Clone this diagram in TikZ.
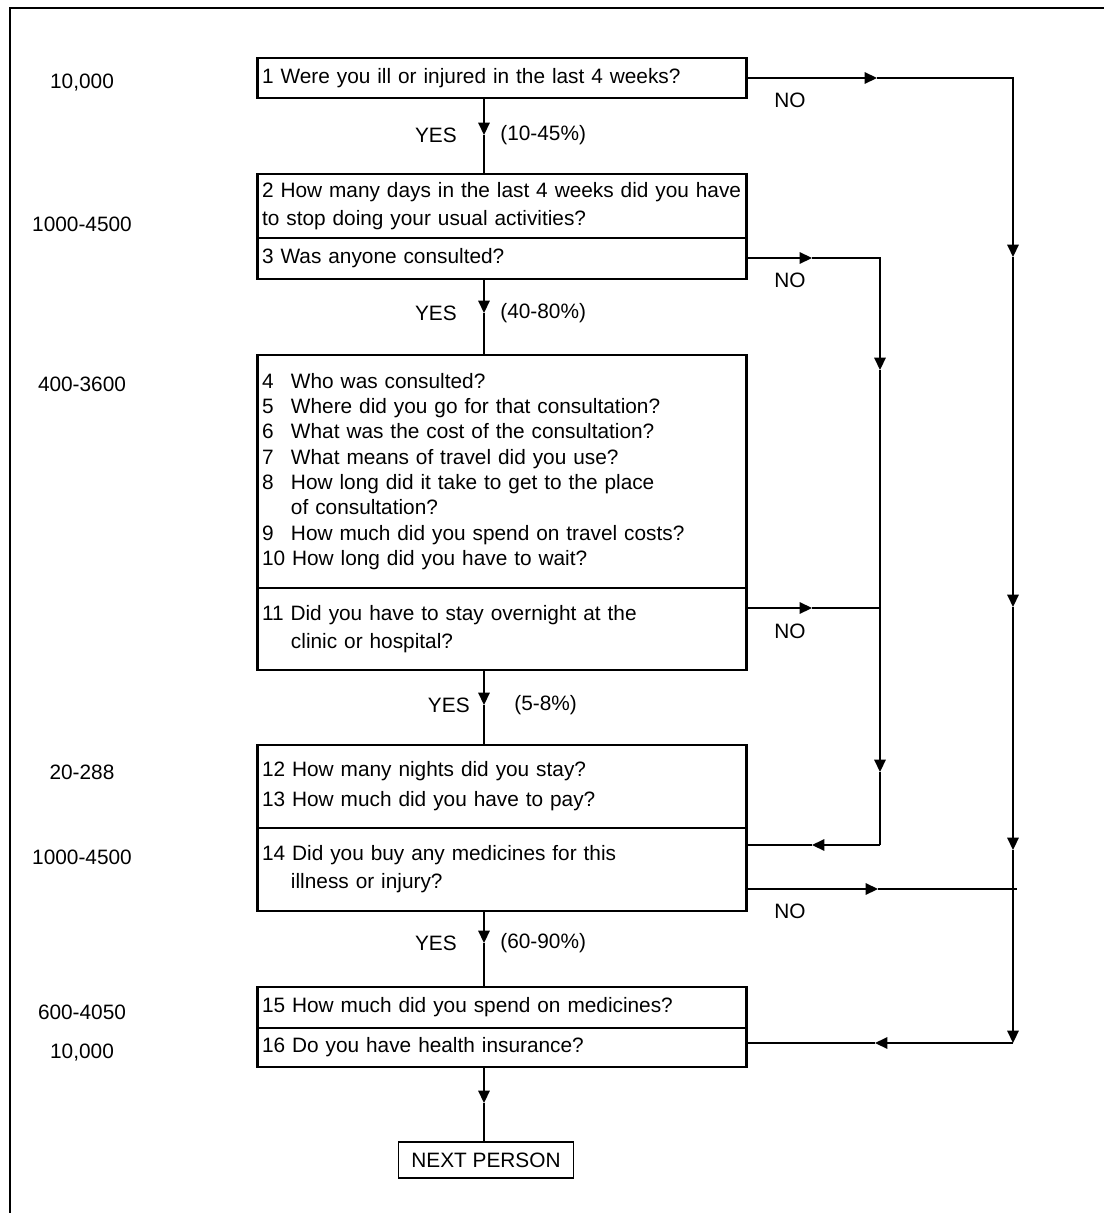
\documentclass[tikz,border=0pt]{standalone}
\usepackage{fontspec}
\setmainfont{Liberation Sans}
\usetikzlibrary{arrows.meta, positioning}
\newcommand{\qn}[1]{\makebox[1.39em][l]{#1}}

\begin{document}
\begin{tikzpicture}[
  x=0.02cm, y=-0.02cm,
  qbox/.style={rectangle, draw, line width=1.6pt, text width=9.6cm,
               minimum width=9.78cm, inner xsep=0.09cm, inner ysep=0pt,
               outer sep=0pt, align=left, font=\fontsize{11.85}{16}\selectfont},
  endbox/.style={rectangle, draw, line width=1pt, minimum width=3.5cm,
                 minimum height=0.72cm, inner sep=0pt, font=\fontsize{11.85}{14}\selectfont},
  arrow/.style={-{Triangle[length=7pt, width=6.5pt]}, line width=0.9pt},
  link/.style={line width=0.9pt},
  lbl/.style={inner sep=0pt, font=\fontsize{11.85}{14}\selectfont},
  cntlbl/.style={inner sep=0pt, font=\fontsize{11.85}{14}\selectfont}
]
  \useasboundingbox (0,0) rectangle (1104,1213);
  \draw[line width=1.3pt] (10,1213) -- (10,8) -- (1104,8);

  \node[qbox, minimum height=0.8cm] (q1) at (502,78)
    {1 Were you ill or injured in the last 4 weeks?};
  \node[qbox, minimum height=1.28cm] (q2) at (502,206)
    {2 How many days in the last 4 weeks did you have\\to stop doing your usual activities?};
  \node[qbox, minimum height=0.82cm, below=0pt of q2] (q3)
    {3 Was anyone consulted?};
  \node[qbox, minimum height=4.66cm, font=\fontsize{11.85}{14.4}\selectfont] (q4) at (502,471.5)
    {\qn{4}Who was consulted?\\
     \qn{5}Where did you go for that consultation?\\
     \qn{6}What was the cost of the consultation?\\
     \qn{7}What means of travel did you use?\\
     \qn{8}How long did it take to get to the place\\
     \qn{}of consultation?\\
     \qn{9}How much did you spend on travel costs?\\
     10 How long did you have to wait?};
  \node[qbox, minimum height=1.64cm, below=0pt of q4] (q11)
    {11 Did you have to stay overnight at the\\\qn{}clinic or hospital?};
  \node[qbox, minimum height=1.66cm] (q12) at (502,786.5)
    {12 How many nights did you stay?\\[1pt]13 How much did you have to pay?};
  \node[qbox, minimum height=1.66cm, below=0pt of q12] (q14)
    {14 Did you buy any medicines for this\\\qn{}illness or injury?};
  \node[qbox, minimum height=0.82cm] (q15) at (502,1007.5)
    {15 How much did you spend on medicines?};
  \node[qbox, minimum height=0.78cm, below=0pt of q15] (q16)
    {16 Do you have health insurance?};
  \node[endbox] (next) at (486,1160) {NEXT PERSON};

  \node[cntlbl] (n1) at (82,83) {10,000};
  \node[cntlbl] (n2) at (82,224) {1000-4500};
  \node[cntlbl] (n4) at (82,384) {400-3600};
  \node[cntlbl] (n12) at (82,772) {20-288};
  \node[cntlbl] (n14) at (82,857) {1000-4500};
  \node[cntlbl] (n15) at (82,1012) {600-4050};
  \node[cntlbl] (n16) at (82,1053) {10,000};

  \coordinate (a1) at (484,135);
  \coordinate (a3) at (484,313);
  \coordinate (a11) at (484,705);
  \coordinate (a14) at (484,943);
  \coordinate (a16) at (484,1103);
  \draw[arrow] (q1.south -| a1) -- (a1);
  \draw[link] (a1) -- (q2.north -| a1);
  \draw[arrow] (q3.south -| a3) -- (a3);
  \draw[link] (a3) -- (q4.north -| a3);
  \draw[arrow] (q11.south -| a11) -- (a11);
  \draw[link] (a11) -- (q12.north -| a11);
  \draw[arrow] (q14.south -| a14) -- (a14);
  \draw[link] (a14) -- (q15.north -| a14);
  \draw[arrow] (q16.south -| a16) -- (a16);
  \draw[link] (a16) -- (next.north -| a16);

  \node[lbl, left=0.54cm of a1] {YES};
  \node[lbl, right=0.32cm of a1] {(10-45\%)};
  \node[lbl, left=0.54cm of a3] {YES};
  \node[lbl, right=0.32cm of a3] {(40-80\%)};
  \node[lbl, left=0.28cm of a11] {YES};
  \node[lbl, right=0.6cm of a11] {(5-8\%)};
  \node[lbl, left=0.54cm of a14] {YES};
  \node[lbl, right=0.32cm of a14] {(60-90\%)};

  \coordinate (r1) at (877,78);
  \coordinate (c1) at (1013,78);
  \coordinate (d1) at (1013,257);
  \coordinate (d2) at (1013,607);
  \coordinate (d3) at (1013,850);
  \coordinate (d4) at (1013,1043);
  \coordinate (l16) at (875,1043);
  \draw[arrow] (r1 -| q1.east) -- (r1);
  \draw[arrow] (r1) -- (c1) -- (d1);
  \draw[arrow] (d1) -- (d2);
  \draw[arrow] (d2) -- (d3);
  \draw[arrow] (d3) -- (d4);
  \draw[arrow] (d4) -- (l16);
  \draw[link] (l16) -- (l16 -| q16.east);

  \coordinate (r3) at (812,258);
  \coordinate (c3) at (880,258);
  \coordinate (e1) at (880,370);
  \coordinate (e2) at (880,772);
  \coordinate (c14) at (880,845);
  \coordinate (l14) at (812,845);
  \draw[arrow] (r3 -| q3.east) -- (r3);
  \draw[arrow] (r3) -- (c3) -- (e1);
  \draw[arrow] (e1) -- (e2);
  \draw[link] (e2) -- (c14);
  \draw[arrow] (c14) -- (l14);
  \draw[link] (l14) -- (l14 -| q14.east);

  \coordinate (r11) at (812,608);
  \draw[arrow] (r11 -| q11.east) -- (r11);
  \draw[link] (r11) -- (r11 -| c3);

  \coordinate (r14) at (878,889);
  \coordinate (j14) at (1017,889);
  \draw[arrow] (r14 -| q14.east) -- (r14);
  \draw[link] (r14) -- (j14);

  \node[lbl] (no1) at (790,100) {NO};
  \node[lbl] (no3) at (790,280) {NO};
  \node[lbl] (no11) at (790,631) {NO};
  \node[lbl] (no14) at (790,911) {NO};
\end{tikzpicture}
\end{document}
